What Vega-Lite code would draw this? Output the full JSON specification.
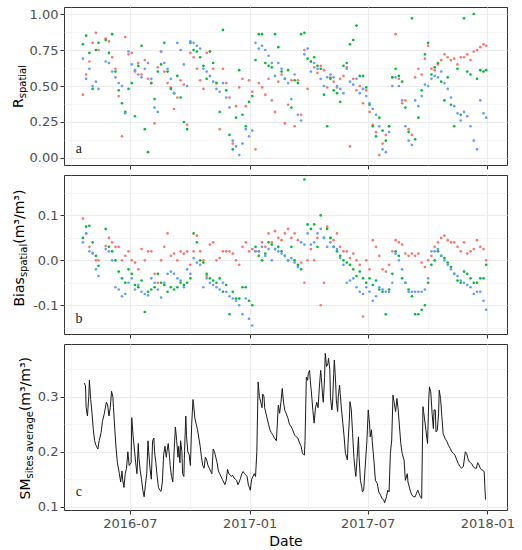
{
"$schema": "https://vega.github.io/schema/vega-lite/v6.json",
"background": "white",
"padding": {"left": 10, "top": 6, "right": 5, "bottom": 5},
"bounds": "flush",
"spacing": 10,
"datasets": {
"lab": [{"p":"a","d":"2016-04-14","v":0.06},{"p":"b","d":"2016-04-14","v":-0.13},{"p":"c","d":"2016-04-14","v":0.127}],
"pts": [
{"d":"2016-04-20","s":"S1","r":0.44,"b":0.093},{"d":"2016-04-20","s":"S2","r":0.79,"b":0.05},{"d":"2016-04-20","s":"S3","r":0.69,"b":0.04},
{"d":"2016-04-25","s":"S1","r":0.58,"b":0.06},{"d":"2016-04-25","s":"S2","r":0.85,"b":0.075},{"d":"2016-04-25","s":"S3","r":0.55,"b":0.06},
{"d":"2016-04-30","s":"S1","r":0.67,"b":0.03},{"d":"2016-04-30","s":"S2","r":0.73,"b":0.077},{"d":"2016-04-30","s":"S3","r":0.62,"b":0.02},
{"d":"2016-05-05","s":"S1","r":0.80,"b":0.017},{"d":"2016-05-05","s":"S2","r":0.48,"b":0.04},{"d":"2016-05-05","s":"S3","r":0.50,"b":0.015},
{"d":"2016-05-10","s":"S1","r":0.87,"b":0.0},{"d":"2016-05-10","s":"S2","r":0.75,"b":0.01},{"d":"2016-05-10","s":"S3","r":0.53,"b":-0.02},
{"d":"2016-05-14","s":"S1","r":0.75,"b":0.0},{"d":"2016-05-14","s":"S2","r":0.80,"b":-0.012},{"d":"2016-05-14","s":"S3","r":0.48,"b":-0.035},
{"d":"2016-05-25","s":"S1","r":0.83,"b":0.032},{"d":"2016-05-25","s":"S2","r":0.82,"b":0.07},{"d":"2016-05-25","s":"S3","r":0.67,"b":0.025},
{"d":"2016-05-30","s":"S1","r":0.81,"b":0.05},{"d":"2016-05-30","s":"S2","r":0.73,"b":0.03},{"d":"2016-05-30","s":"S3","r":0.66,"b":0.02},
{"d":"2016-06-04","s":"S1","r":0.70,"b":0.04},{"d":"2016-06-04","s":"S2","r":0.86,"b":0.02},{"d":"2016-06-04","s":"S3","r":0.60,"b":0.0},
{"d":"2016-06-09","s":"S1","r":0.62,"b":0.03},{"d":"2016-06-09","s":"S2","r":0.60,"b":0.0},{"d":"2016-06-09","s":"S3","r":0.56,"b":-0.06},
{"d":"2016-06-14","s":"S1","r":0.43,"b":0.03},{"d":"2016-06-14","s":"S2","r":0.47,"b":-0.025},{"d":"2016-06-14","s":"S3","r":0.52,"b":-0.065},
{"d":"2016-06-19","s":"S1","r":0.15,"b":0.0},{"d":"2016-06-19","s":"S2","r":0.38,"b":-0.04},{"d":"2016-06-19","s":"S3","r":0.50,"b":-0.08},
{"d":"2016-06-24","s":"S1","r":0.84,"b":0.01},{"d":"2016-06-24","s":"S2","r":0.32,"b":-0.05},{"d":"2016-06-24","s":"S3","r":0.31,"b":-0.075},
{"d":"2016-06-29","s":"S1","r":0.72,"b":0.02},{"d":"2016-06-29","s":"S2","r":0.48,"b":-0.02},{"d":"2016-06-29","s":"S3","r":0.74,"b":-0.05},
{"d":"2016-07-04","s":"S1","r":0.73,"b":0.0},{"d":"2016-07-04","s":"S2","r":0.52,"b":-0.03},{"d":"2016-07-04","s":"S3","r":0.65,"b":-0.04},
{"d":"2016-07-09","s":"S1","r":0.60,"b":-0.005},{"d":"2016-07-09","s":"S2","r":0.29,"b":-0.055},{"d":"2016-07-09","s":"S3","r":0.61,"b":-0.065},
{"d":"2016-07-14","s":"S1","r":0.66,"b":-0.02},{"d":"2016-07-14","s":"S2","r":0.64,"b":-0.06},{"d":"2016-07-14","s":"S3","r":0.58,"b":-0.055},
{"d":"2016-07-19","s":"S1","r":0.58,"b":0.025},{"d":"2016-07-19","s":"S2","r":0.78,"b":-0.045},{"d":"2016-07-19","s":"S3","r":0.56,"b":-0.07},
{"d":"2016-07-24","s":"S1","r":0.68,"b":0.0},{"d":"2016-07-24","s":"S2","r":0.20,"b":-0.115},{"d":"2016-07-24","s":"S3","r":0.62,"b":-0.075},
{"d":"2016-07-29","s":"S1","r":0.55,"b":0.02},{"d":"2016-07-29","s":"S2","r":0.04,"b":-0.07},{"d":"2016-07-29","s":"S3","r":0.66,"b":-0.078},
{"d":"2016-08-03","s":"S1","r":0.52,"b":0.02},{"d":"2016-08-03","s":"S2","r":0.52,"b":-0.065},{"d":"2016-08-03","s":"S3","r":0.55,"b":-0.04},
{"d":"2016-08-08","s":"S1","r":0.24,"b":-0.03},{"d":"2016-08-08","s":"S2","r":0.41,"b":-0.06},{"d":"2016-08-08","s":"S3","r":0.35,"b":-0.05},
{"d":"2016-08-13","s":"S1","r":0.63,"b":-0.05},{"d":"2016-08-13","s":"S2","r":0.60,"b":-0.03},{"d":"2016-08-13","s":"S3","r":0.32,"b":-0.065},
{"d":"2016-08-18","s":"S1","r":0.74,"b":0.0},{"d":"2016-08-18","s":"S2","r":0.65,"b":-0.05},{"d":"2016-08-18","s":"S3","r":0.74,"b":-0.083},
{"d":"2016-08-23","s":"S1","r":0.60,"b":0.03},{"d":"2016-08-23","s":"S2","r":0.80,"b":-0.055},{"d":"2016-08-23","s":"S3","r":0.66,"b":-0.05},
{"d":"2016-08-28","s":"S1","r":0.52,"b":0.06},{"d":"2016-08-28","s":"S2","r":0.60,"b":-0.07},{"d":"2016-08-28","s":"S3","r":0.62,"b":-0.03},
{"d":"2016-09-02","s":"S1","r":0.49,"b":0.01},{"d":"2016-09-02","s":"S2","r":0.48,"b":-0.06},{"d":"2016-09-02","s":"S3","r":0.55,"b":-0.025},
{"d":"2016-09-07","s":"S1","r":0.34,"b":0.015},{"d":"2016-09-07","s":"S2","r":0.45,"b":-0.065},{"d":"2016-09-07","s":"S3","r":0.45,"b":-0.03},
{"d":"2016-09-12","s":"S1","r":0.42,"b":0.0},{"d":"2016-09-12","s":"S2","r":0.57,"b":-0.06},{"d":"2016-09-12","s":"S3","r":0.80,"b":-0.04},
{"d":"2016-09-17","s":"S1","r":0.54,"b":0.02},{"d":"2016-09-17","s":"S2","r":0.42,"b":-0.05},{"d":"2016-09-17","s":"S3","r":0.75,"b":-0.045},
{"d":"2016-09-22","s":"S1","r":0.51,"b":0.015},{"d":"2016-09-22","s":"S2","r":0.25,"b":-0.055},{"d":"2016-09-22","s":"S3","r":0.65,"b":-0.06},
{"d":"2016-09-27","s":"S1","r":0.23,"b":0.02},{"d":"2016-09-27","s":"S2","r":0.20,"b":-0.05},{"d":"2016-09-27","s":"S3","r":0.50,"b":-0.02},
{"d":"2016-10-02","s":"S1","r":0.73,"b":-0.01},{"d":"2016-10-02","s":"S2","r":0.80,"b":-0.04},{"d":"2016-10-02","s":"S3","r":0.81,"b":-0.03},
{"d":"2016-10-07","s":"S1","r":0.70,"b":0.02},{"d":"2016-10-07","s":"S2","r":0.75,"b":0.06},{"d":"2016-10-07","s":"S3","r":0.80,"b":0.005},
{"d":"2016-10-12","s":"S1","r":0.62,"b":0.055},{"d":"2016-10-12","s":"S2","r":0.74,"b":0.04},{"d":"2016-10-12","s":"S3","r":0.78,"b":-0.005},
{"d":"2016-10-17","s":"S1","r":0.54,"b":0.02},{"d":"2016-10-17","s":"S2","r":0.70,"b":0.0},{"d":"2016-10-17","s":"S3","r":0.76,"b":-0.01},
{"d":"2016-10-22","s":"S1","r":0.48,"b":0.0},{"d":"2016-10-22","s":"S2","r":0.64,"b":-0.005},{"d":"2016-10-22","s":"S3","r":0.62,"b":-0.06},
{"d":"2016-10-27","s":"S1","r":0.73,"b":-0.035},{"d":"2016-10-27","s":"S2","r":0.55,"b":-0.03},{"d":"2016-10-27","s":"S3","r":0.60,"b":-0.04},
{"d":"2016-11-01","s":"S1","r":0.74,"b":0.035},{"d":"2016-11-01","s":"S2","r":0.74,"b":-0.04},{"d":"2016-11-01","s":"S3","r":0.57,"b":-0.05},
{"d":"2016-11-06","s":"S1","r":0.62,"b":0.04},{"d":"2016-11-06","s":"S2","r":0.66,"b":-0.045},{"d":"2016-11-06","s":"S3","r":0.53,"b":-0.055},
{"d":"2016-11-11","s":"S1","r":0.52,"b":0.0},{"d":"2016-11-11","s":"S2","r":0.52,"b":-0.05},{"d":"2016-11-11","s":"S3","r":0.48,"b":-0.06},
{"d":"2016-11-16","s":"S1","r":0.20,"b":0.005},{"d":"2016-11-16","s":"S2","r":0.32,"b":-0.04},{"d":"2016-11-16","s":"S3","r":0.46,"b":-0.065},
{"d":"2016-11-21","s":"S1","r":0.62,"b":0.02},{"d":"2016-11-21","s":"S2","r":0.89,"b":-0.07},{"d":"2016-11-21","s":"S3","r":0.52,"b":-0.05},
{"d":"2016-11-26","s":"S1","r":0.52,"b":0.02},{"d":"2016-11-26","s":"S2","r":0.47,"b":-0.055},{"d":"2016-11-26","s":"S3","r":0.42,"b":-0.07},
{"d":"2016-12-01","s":"S1","r":0.42,"b":0.02},{"d":"2016-12-01","s":"S2","r":0.16,"b":-0.12},{"d":"2016-12-01","s":"S3","r":0.35,"b":-0.08},
{"d":"2016-12-06","s":"S1","r":0.10,"b":0.015},{"d":"2016-12-06","s":"S2","r":0.06,"b":-0.07},{"d":"2016-12-06","s":"S3","r":0.12,"b":-0.085},
{"d":"2016-12-11","s":"S1","r":0.36,"b":0.0},{"d":"2016-12-11","s":"S2","r":0.28,"b":-0.085},{"d":"2016-12-11","s":"S3","r":0.08,"b":-0.09},
{"d":"2016-12-16","s":"S1","r":0.49,"b":-0.01},{"d":"2016-12-16","s":"S2","r":0.61,"b":-0.085},{"d":"2016-12-16","s":"S3","r":0.02,"b":-0.1},
{"d":"2016-12-21","s":"S1","r":0.55,"b":0.03},{"d":"2016-12-21","s":"S2","r":0.30,"b":-0.06},{"d":"2016-12-21","s":"S3","r":0.10,"b":-0.12},
{"d":"2016-12-26","s":"S1","r":0.36,"b":0.04},{"d":"2016-12-26","s":"S2","r":0.22,"b":-0.06},{"d":"2016-12-26","s":"S3","r":0.20,"b":-0.085},
{"d":"2016-12-31","s":"S1","r":0.54,"b":0.02},{"d":"2016-12-31","s":"S2","r":0.39,"b":-0.09},{"d":"2016-12-31","s":"S3","r":0.15,"b":-0.13},
{"d":"2017-01-05","s":"S1","r":0.46,"b":0.025},{"d":"2017-01-05","s":"S2","r":0.43,"b":-0.1},{"d":"2017-01-05","s":"S3","r":0.19,"b":-0.145},
{"d":"2017-01-10","s":"S1","r":0.06,"b":0.02},{"d":"2017-01-10","s":"S2","r":0.68,"b":0.03},{"d":"2017-01-10","s":"S3","r":0.80,"b":0.02},
{"d":"2017-01-15","s":"S1","r":0.52,"b":0.02},{"d":"2017-01-15","s":"S2","r":0.86,"b":0.01},{"d":"2017-01-15","s":"S3","r":0.76,"b":0.02},
{"d":"2017-01-20","s":"S1","r":0.49,"b":0.04},{"d":"2017-01-20","s":"S2","r":0.86,"b":0.0},{"d":"2017-01-20","s":"S3","r":0.78,"b":0.03},
{"d":"2017-01-25","s":"S1","r":0.44,"b":0.03},{"d":"2017-01-25","s":"S2","r":0.66,"b":0.015},{"d":"2017-01-25","s":"S3","r":0.75,"b":0.01},
{"d":"2017-01-30","s":"S1","r":0.55,"b":0.06},{"d":"2017-01-30","s":"S2","r":0.64,"b":0.04},{"d":"2017-01-30","s":"S3","r":0.71,"b":0.025},
{"d":"2017-02-04","s":"S1","r":0.40,"b":0.04},{"d":"2017-02-04","s":"S2","r":0.63,"b":0.035},{"d":"2017-02-04","s":"S3","r":0.66,"b":0.0},
{"d":"2017-02-09","s":"S1","r":0.32,"b":0.065},{"d":"2017-02-09","s":"S2","r":0.86,"b":0.025},{"d":"2017-02-09","s":"S3","r":0.57,"b":0.025},
{"d":"2017-02-14","s":"S1","r":0.53,"b":0.05},{"d":"2017-02-14","s":"S2","r":0.77,"b":0.03},{"d":"2017-02-14","s":"S3","r":0.66,"b":0.02},
{"d":"2017-02-19","s":"S1","r":0.58,"b":0.045},{"d":"2017-02-19","s":"S2","r":0.60,"b":0.02},{"d":"2017-02-19","s":"S3","r":0.62,"b":0.015},
{"d":"2017-02-24","s":"S1","r":0.24,"b":0.06},{"d":"2017-02-24","s":"S2","r":0.55,"b":0.01},{"d":"2017-02-24","s":"S3","r":0.55,"b":0.01},
{"d":"2017-03-01","s":"S1","r":0.37,"b":0.07},{"d":"2017-03-01","s":"S2","r":0.61,"b":0.0},{"d":"2017-03-01","s":"S3","r":0.52,"b":0.0},
{"d":"2017-03-06","s":"S1","r":0.54,"b":0.05},{"d":"2017-03-06","s":"S2","r":0.35,"b":0.03},{"d":"2017-03-06","s":"S3","r":0.41,"b":0.005},
{"d":"2017-03-11","s":"S1","r":0.22,"b":0.06},{"d":"2017-03-11","s":"S2","r":0.54,"b":0.0},{"d":"2017-03-11","s":"S3","r":0.58,"b":-0.005},
{"d":"2017-03-16","s":"S1","r":0.54,"b":0.045},{"d":"2017-03-16","s":"S2","r":0.52,"b":-0.01},{"d":"2017-03-16","s":"S3","r":0.30,"b":-0.015},
{"d":"2017-03-21","s":"S1","r":0.30,"b":-0.005},{"d":"2017-03-21","s":"S2","r":0.86,"b":-0.02},{"d":"2017-03-21","s":"S3","r":0.26,"b":0.04},
{"d":"2017-03-26","s":"S1","r":0.75,"b":-0.05},{"d":"2017-03-26","s":"S2","r":0.87,"b":0.18},{"d":"2017-03-26","s":"S3","r":0.72,"b":0.035},
{"d":"2017-03-31","s":"S1","r":0.48,"b":0.0},{"d":"2017-03-31","s":"S2","r":0.69,"b":0.08},{"d":"2017-03-31","s":"S3","r":0.76,"b":0.06},
{"d":"2017-04-05","s":"S1","r":0.67,"b":0.025},{"d":"2017-04-05","s":"S2","r":0.67,"b":0.07},{"d":"2017-04-05","s":"S3","r":0.60,"b":0.035},
{"d":"2017-04-10","s":"S1","r":0.63,"b":0.0},{"d":"2017-04-10","s":"S2","r":0.70,"b":0.08},{"d":"2017-04-10","s":"S3","r":0.66,"b":0.04},
{"d":"2017-04-15","s":"S1","r":0.59,"b":0.05},{"d":"2017-04-15","s":"S2","r":0.64,"b":0.03},{"d":"2017-04-15","s":"S3","r":0.62,"b":0.06},
{"d":"2017-04-20","s":"S1","r":0.64,"b":-0.1},{"d":"2017-04-20","s":"S2","r":0.62,"b":0.1},{"d":"2017-04-20","s":"S3","r":0.55,"b":0.07},
{"d":"2017-04-25","s":"S1","r":0.61,"b":-0.05},{"d":"2017-04-25","s":"S2","r":0.44,"b":0.05},{"d":"2017-04-25","s":"S3","r":0.50,"b":0.05},
{"d":"2017-04-30","s":"S1","r":0.49,"b":0.075},{"d":"2017-04-30","s":"S2","r":0.22,"b":0.07},{"d":"2017-04-30","s":"S3","r":0.56,"b":0.03},
{"d":"2017-05-05","s":"S1","r":0.56,"b":0.05},{"d":"2017-05-05","s":"S2","r":0.55,"b":0.05},{"d":"2017-05-05","s":"S3","r":0.58,"b":0.04},
{"d":"2017-05-10","s":"S1","r":0.53,"b":0.045},{"d":"2017-05-10","s":"S2","r":0.47,"b":0.03},{"d":"2017-05-10","s":"S3","r":0.56,"b":0.03},
{"d":"2017-05-15","s":"S1","r":0.49,"b":0.06},{"d":"2017-05-15","s":"S2","r":0.45,"b":0.02},{"d":"2017-05-15","s":"S3","r":0.50,"b":0.025},
{"d":"2017-05-20","s":"S1","r":0.55,"b":0.03},{"d":"2017-05-20","s":"S2","r":0.39,"b":0.01},{"d":"2017-05-20","s":"S3","r":0.48,"b":0.005},
{"d":"2017-05-25","s":"S1","r":0.57,"b":0.02},{"d":"2017-05-25","s":"S2","r":0.64,"b":0.0},{"d":"2017-05-25","s":"S3","r":0.45,"b":-0.01},
{"d":"2017-05-30","s":"S1","r":0.63,"b":0.02},{"d":"2017-05-30","s":"S2","r":0.66,"b":-0.005},{"d":"2017-05-30","s":"S3","r":0.62,"b":-0.05},
{"d":"2017-06-04","s":"S1","r":0.08,"b":0.005},{"d":"2017-06-04","s":"S2","r":0.79,"b":-0.01},{"d":"2017-06-04","s":"S3","r":0.53,"b":-0.045},
{"d":"2017-06-09","s":"S1","r":0.55,"b":0.015},{"d":"2017-06-09","s":"S2","r":0.82,"b":-0.02},{"d":"2017-06-09","s":"S3","r":0.51,"b":-0.04},
{"d":"2017-06-14","s":"S1","r":0.47,"b":0.0},{"d":"2017-06-14","s":"S2","r":0.92,"b":-0.035},{"d":"2017-06-14","s":"S3","r":0.55,"b":-0.06},
{"d":"2017-06-19","s":"S1","r":0.50,"b":-0.01},{"d":"2017-06-19","s":"S2","r":0.57,"b":-0.025},{"d":"2017-06-19","s":"S3","r":0.45,"b":-0.07},
{"d":"2017-06-24","s":"S1","r":0.38,"b":-0.125},{"d":"2017-06-24","s":"S2","r":0.57,"b":-0.04},{"d":"2017-06-24","s":"S3","r":0.48,"b":-0.075},
{"d":"2017-06-29","s":"S1","r":0.47,"b":0.0},{"d":"2017-06-29","s":"S2","r":0.49,"b":-0.05},{"d":"2017-06-29","s":"S3","r":0.43,"b":-0.06},
{"d":"2017-07-04","s":"S1","r":0.32,"b":-0.02},{"d":"2017-07-04","s":"S2","r":0.37,"b":-0.04},{"d":"2017-07-04","s":"S3","r":0.38,"b":-0.07},
{"d":"2017-07-09","s":"S1","r":0.23,"b":0.045},{"d":"2017-07-09","s":"S2","r":0.22,"b":-0.055},{"d":"2017-07-09","s":"S3","r":0.34,"b":-0.09},
{"d":"2017-07-14","s":"S1","r":0.18,"b":0.03},{"d":"2017-07-14","s":"S2","r":0.15,"b":-0.045},{"d":"2017-07-14","s":"S3","r":0.30,"b":-0.08},
{"d":"2017-07-19","s":"S1","r":0.02,"b":0.01},{"d":"2017-07-19","s":"S2","r":0.28,"b":-0.065},{"d":"2017-07-19","s":"S3","r":0.22,"b":-0.06},
{"d":"2017-07-24","s":"S1","r":0.10,"b":-0.02},{"d":"2017-07-24","s":"S2","r":0.19,"b":-0.07},{"d":"2017-07-24","s":"S3","r":0.06,"b":-0.065},
{"d":"2017-07-29","s":"S1","r":0.16,"b":-0.025},{"d":"2017-07-29","s":"S2","r":0.12,"b":-0.12},{"d":"2017-07-29","s":"S3","r":0.04,"b":-0.07},
{"d":"2017-08-03","s":"S1","r":0.22,"b":-0.01},{"d":"2017-08-03","s":"S2","r":0.22,"b":-0.065},{"d":"2017-08-03","s":"S3","r":0.18,"b":-0.07},
{"d":"2017-08-08","s":"S1","r":0.56,"b":0.02},{"d":"2017-08-08","s":"S2","r":0.56,"b":-0.03},{"d":"2017-08-08","s":"S3","r":0.50,"b":-0.05},
{"d":"2017-08-13","s":"S1","r":0.86,"b":0.045},{"d":"2017-08-13","s":"S2","r":0.62,"b":0.02},{"d":"2017-08-13","s":"S3","r":0.56,"b":0.015},
{"d":"2017-08-18","s":"S1","r":0.55,"b":0.04},{"d":"2017-08-18","s":"S2","r":0.57,"b":0.01},{"d":"2017-08-18","s":"S3","r":0.50,"b":0.0},
{"d":"2017-08-23","s":"S1","r":0.38,"b":0.035},{"d":"2017-08-23","s":"S2","r":0.53,"b":-0.04},{"d":"2017-08-23","s":"S3","r":0.40,"b":-0.02},
{"d":"2017-08-28","s":"S1","r":0.40,"b":0.015},{"d":"2017-08-28","s":"S2","r":0.35,"b":-0.05},{"d":"2017-08-28","s":"S3","r":0.22,"b":-0.05},
{"d":"2017-09-02","s":"S1","r":0.20,"b":0.01},{"d":"2017-09-02","s":"S2","r":0.18,"b":-0.065},{"d":"2017-09-02","s":"S3","r":0.12,"b":-0.07},
{"d":"2017-09-07","s":"S1","r":0.16,"b":0.015},{"d":"2017-09-07","s":"S2","r":0.97,"b":-0.08},{"d":"2017-09-07","s":"S3","r":0.09,"b":-0.07},
{"d":"2017-09-12","s":"S1","r":0.56,"b":0.01},{"d":"2017-09-12","s":"S2","r":0.13,"b":-0.12},{"d":"2017-09-12","s":"S3","r":0.40,"b":-0.07},
{"d":"2017-09-17","s":"S1","r":0.62,"b":0.015},{"d":"2017-09-17","s":"S2","r":0.28,"b":-0.12},{"d":"2017-09-17","s":"S3","r":0.36,"b":-0.07},
{"d":"2017-09-22","s":"S1","r":0.58,"b":-0.005},{"d":"2017-09-22","s":"S2","r":0.47,"b":-0.11},{"d":"2017-09-22","s":"S3","r":0.43,"b":-0.07},
{"d":"2017-09-27","s":"S1","r":0.69,"b":-0.015},{"d":"2017-09-27","s":"S2","r":0.72,"b":-0.1},{"d":"2017-09-27","s":"S3","r":0.51,"b":-0.065},
{"d":"2017-10-02","s":"S1","r":0.78,"b":0.0},{"d":"2017-10-02","s":"S2","r":0.80,"b":-0.05},{"d":"2017-10-02","s":"S3","r":0.50,"b":-0.04},
{"d":"2017-10-07","s":"S1","r":0.62,"b":0.01},{"d":"2017-10-07","s":"S2","r":0.58,"b":-0.01},{"d":"2017-10-07","s":"S3","r":0.55,"b":0.02},
{"d":"2017-10-12","s":"S1","r":0.61,"b":0.03},{"d":"2017-10-12","s":"S2","r":0.63,"b":0.0},{"d":"2017-10-12","s":"S3","r":0.57,"b":0.02},
{"d":"2017-10-17","s":"S1","r":0.65,"b":0.04},{"d":"2017-10-17","s":"S2","r":0.66,"b":0.02},{"d":"2017-10-17","s":"S3","r":0.56,"b":0.025},
{"d":"2017-10-22","s":"S1","r":0.68,"b":0.05},{"d":"2017-10-22","s":"S2","r":0.53,"b":0.01},{"d":"2017-10-22","s":"S3","r":0.60,"b":0.01},
{"d":"2017-10-27","s":"S1","r":0.72,"b":0.055},{"d":"2017-10-27","s":"S2","r":0.40,"b":0.005},{"d":"2017-10-27","s":"S3","r":0.52,"b":0.0},
{"d":"2017-11-01","s":"S1","r":0.70,"b":0.045},{"d":"2017-11-01","s":"S2","r":0.56,"b":-0.005},{"d":"2017-11-01","s":"S3","r":0.48,"b":-0.01},
{"d":"2017-11-06","s":"S1","r":0.68,"b":0.04},{"d":"2017-11-06","s":"S2","r":0.37,"b":-0.015},{"d":"2017-11-06","s":"S3","r":0.42,"b":-0.02},
{"d":"2017-11-11","s":"S1","r":0.69,"b":0.04},{"d":"2017-11-11","s":"S2","r":0.22,"b":-0.03},{"d":"2017-11-11","s":"S3","r":0.36,"b":-0.03},
{"d":"2017-11-16","s":"S1","r":0.65,"b":0.03},{"d":"2017-11-16","s":"S2","r":0.62,"b":-0.045},{"d":"2017-11-16","s":"S3","r":0.31,"b":-0.035},
{"d":"2017-11-21","s":"S1","r":0.70,"b":0.02},{"d":"2017-11-21","s":"S2","r":0.30,"b":-0.05},{"d":"2017-11-21","s":"S3","r":0.26,"b":-0.045},
{"d":"2017-11-26","s":"S1","r":0.70,"b":0.04},{"d":"2017-11-26","s":"S2","r":0.97,"b":-0.025},{"d":"2017-11-26","s":"S3","r":0.32,"b":-0.05},
{"d":"2017-12-01","s":"S1","r":0.72,"b":0.015},{"d":"2017-12-01","s":"S2","r":0.60,"b":-0.03},{"d":"2017-12-01","s":"S3","r":0.29,"b":-0.055},
{"d":"2017-12-06","s":"S1","r":0.68,"b":0.02},{"d":"2017-12-06","s":"S2","r":0.58,"b":-0.04},{"d":"2017-12-06","s":"S3","r":0.22,"b":-0.06},
{"d":"2017-12-11","s":"S1","r":0.74,"b":0.025},{"d":"2017-12-11","s":"S2","r":1.0,"b":-0.05},{"d":"2017-12-11","s":"S3","r":0.12,"b":-0.075},
{"d":"2017-12-16","s":"S1","r":0.75,"b":0.045},{"d":"2017-12-16","s":"S2","r":0.55,"b":-0.05},{"d":"2017-12-16","s":"S3","r":0.06,"b":-0.07},
{"d":"2017-12-21","s":"S1","r":0.77,"b":0.03},{"d":"2017-12-21","s":"S2","r":0.61,"b":-0.04},{"d":"2017-12-21","s":"S3","r":0.40,"b":-0.07},
{"d":"2017-12-26","s":"S1","r":0.79,"b":0.025},{"d":"2017-12-26","s":"S2","r":0.60,"b":-0.04},{"d":"2017-12-26","s":"S3","r":0.31,"b":-0.09},
{"d":"2017-12-30","s":"S1","r":0.78,"b":0.0},{"d":"2017-12-30","s":"S2","r":0.61,"b":-0.01},{"d":"2017-12-30","s":"S3","r":0.28,"b":-0.11}
],
"sm": [
{"d":"2016-04-22","v":0.325},{"d":"2016-04-24","v":0.32},{"d":"2016-04-25","v":0.28},{"d":"2016-04-27","v":0.265},{"d":"2016-04-29","v":0.30},{"d":"2016-04-30","v":0.33},{"d":"2016-05-02","v":0.295},{"d":"2016-05-04","v":0.27},{"d":"2016-05-06","v":0.24},{"d":"2016-05-08","v":0.22},{"d":"2016-05-10","v":0.212},{"d":"2016-05-13","v":0.205},{"d":"2016-05-15","v":0.22},{"d":"2016-05-18","v":0.235},{"d":"2016-05-20","v":0.255},{"d":"2016-05-23","v":0.27},{"d":"2016-05-26","v":0.29},{"d":"2016-05-28","v":0.285},{"d":"2016-05-30","v":0.265},{"d":"2016-06-01","v":0.28},{"d":"2016-06-03","v":0.31},{"d":"2016-06-05","v":0.30},{"d":"2016-06-06","v":0.28},{"d":"2016-06-08","v":0.24},{"d":"2016-06-10","v":0.205},{"d":"2016-06-12","v":0.18},{"d":"2016-06-15","v":0.16},{"d":"2016-06-17","v":0.145},{"d":"2016-06-19","v":0.165},{"d":"2016-06-20","v":0.15},{"d":"2016-06-22","v":0.135},{"d":"2016-06-24","v":0.16},{"d":"2016-06-26","v":0.17},{"d":"2016-06-28","v":0.2},{"d":"2016-06-30","v":0.175},{"d":"2016-07-03","v":0.18},{"d":"2016-07-04","v":0.262},{"d":"2016-07-06","v":0.23},{"d":"2016-07-08","v":0.205},{"d":"2016-07-10","v":0.18},{"d":"2016-07-12","v":0.16},{"d":"2016-07-14","v":0.215},{"d":"2016-07-15","v":0.19},{"d":"2016-07-17","v":0.165},{"d":"2016-07-19","v":0.15},{"d":"2016-07-21","v":0.13},{"d":"2016-07-23","v":0.118},{"d":"2016-07-25","v":0.14},{"d":"2016-07-27","v":0.16},{"d":"2016-07-29","v":0.22},{"d":"2016-07-30","v":0.2},{"d":"2016-08-01","v":0.17},{"d":"2016-08-03","v":0.15},{"d":"2016-08-05","v":0.22},{"d":"2016-08-07","v":0.225},{"d":"2016-08-08","v":0.2},{"d":"2016-08-10","v":0.18},{"d":"2016-08-12","v":0.155},{"d":"2016-08-14","v":0.135},{"d":"2016-08-16","v":0.13},{"d":"2016-08-18","v":0.128},{"d":"2016-08-20","v":0.145},{"d":"2016-08-22","v":0.195},{"d":"2016-08-24","v":0.21},{"d":"2016-08-26","v":0.19},{"d":"2016-08-27","v":0.2},{"d":"2016-08-29","v":0.215},{"d":"2016-08-31","v":0.19},{"d":"2016-09-01","v":0.175},{"d":"2016-09-03","v":0.155},{"d":"2016-09-05","v":0.145},{"d":"2016-09-07","v":0.2},{"d":"2016-09-09","v":0.245},{"d":"2016-09-11","v":0.22},{"d":"2016-09-13","v":0.19},{"d":"2016-09-14","v":0.21},{"d":"2016-09-16","v":0.18},{"d":"2016-09-17","v":0.22},{"d":"2016-09-19","v":0.2},{"d":"2016-09-20","v":0.16},{"d":"2016-09-22","v":0.155},{"d":"2016-09-23","v":0.2},{"d":"2016-09-25","v":0.265},{"d":"2016-09-26","v":0.23},{"d":"2016-09-28","v":0.2},{"d":"2016-09-30","v":0.195},{"d":"2016-10-02","v":0.175},{"d":"2016-10-04","v":0.25},{"d":"2016-10-06","v":0.295},{"d":"2016-10-07","v":0.285},{"d":"2016-10-09","v":0.26},{"d":"2016-10-11","v":0.25},{"d":"2016-10-13","v":0.24},{"d":"2016-10-15","v":0.225},{"d":"2016-10-17","v":0.21},{"d":"2016-10-19","v":0.19},{"d":"2016-10-21","v":0.175},{"d":"2016-10-23","v":0.17},{"d":"2016-10-25","v":0.19},{"d":"2016-10-27","v":0.185},{"d":"2016-10-29","v":0.175},{"d":"2016-10-31","v":0.17},{"d":"2016-11-02","v":0.165},{"d":"2016-11-04","v":0.16},{"d":"2016-11-06","v":0.205},{"d":"2016-11-08","v":0.2},{"d":"2016-11-10","v":0.19},{"d":"2016-11-12","v":0.18},{"d":"2016-11-14","v":0.165},{"d":"2016-11-16","v":0.16},{"d":"2016-11-18","v":0.155},{"d":"2016-11-20","v":0.15},{"d":"2016-11-22","v":0.145},{"d":"2016-11-24","v":0.14},{"d":"2016-11-26","v":0.148},{"d":"2016-11-28","v":0.168},{"d":"2016-11-30","v":0.16},{"d":"2016-12-02","v":0.158},{"d":"2016-12-04","v":0.155},{"d":"2016-12-06","v":0.157},{"d":"2016-12-08","v":0.152},{"d":"2016-12-10","v":0.15},{"d":"2016-12-12","v":0.148},{"d":"2016-12-14","v":0.14},{"d":"2016-12-16","v":0.145},{"d":"2016-12-18","v":0.152},{"d":"2016-12-20","v":0.16},{"d":"2016-12-22","v":0.164},{"d":"2016-12-24","v":0.16},{"d":"2016-12-26","v":0.158},{"d":"2016-12-28","v":0.155},{"d":"2016-12-30","v":0.14},
{"d":"2017-01-02","v":0.13},{"d":"2017-01-04","v":0.15},{"d":"2017-01-06","v":0.155},{"d":"2017-01-08","v":0.16},{"d":"2017-01-10","v":0.155},{"d":"2017-01-12","v":0.2},{"d":"2017-01-14","v":0.327},{"d":"2017-01-16","v":0.30},{"d":"2017-01-18","v":0.29},{"d":"2017-01-20","v":0.28},{"d":"2017-01-21","v":0.305},{"d":"2017-01-23","v":0.3},{"d":"2017-01-24","v":0.28},{"d":"2017-01-26","v":0.27},{"d":"2017-01-28","v":0.26},{"d":"2017-01-30","v":0.25},{"d":"2017-02-01","v":0.24},{"d":"2017-02-03","v":0.235},{"d":"2017-02-06","v":0.23},{"d":"2017-02-08","v":0.225},{"d":"2017-02-11","v":0.22},{"d":"2017-02-12","v":0.24},{"d":"2017-02-14","v":0.285},{"d":"2017-02-16","v":0.27},{"d":"2017-02-18","v":0.29},{"d":"2017-02-20","v":0.315},{"d":"2017-02-22","v":0.29},{"d":"2017-02-24","v":0.275},{"d":"2017-02-26","v":0.27},{"d":"2017-03-01","v":0.26},{"d":"2017-03-03","v":0.25},{"d":"2017-03-06","v":0.245},{"d":"2017-03-08","v":0.24},{"d":"2017-03-11","v":0.23},{"d":"2017-03-13","v":0.228},{"d":"2017-03-16","v":0.225},{"d":"2017-03-18","v":0.218},{"d":"2017-03-21","v":0.21},{"d":"2017-03-23","v":0.197},{"d":"2017-03-26","v":0.194},{"d":"2017-03-27","v":0.22},{"d":"2017-03-29","v":0.336},{"d":"2017-03-31","v":0.33},{"d":"2017-04-01","v":0.342},{"d":"2017-04-03","v":0.348},{"d":"2017-04-04","v":0.33},{"d":"2017-04-06","v":0.305},{"d":"2017-04-08","v":0.275},{"d":"2017-04-10","v":0.252},{"d":"2017-04-12","v":0.28},{"d":"2017-04-14","v":0.29},{"d":"2017-04-16","v":0.28},{"d":"2017-04-18","v":0.318},{"d":"2017-04-20","v":0.348},{"d":"2017-04-21","v":0.335},{"d":"2017-04-23","v":0.3},{"d":"2017-04-24","v":0.29},{"d":"2017-04-26","v":0.335},{"d":"2017-04-27","v":0.379},{"d":"2017-04-29","v":0.355},{"d":"2017-05-01","v":0.36},{"d":"2017-05-02","v":0.37},{"d":"2017-05-04","v":0.35},{"d":"2017-05-05","v":0.3},{"d":"2017-05-07","v":0.276},{"d":"2017-05-08","v":0.282},{"d":"2017-05-10","v":0.342},{"d":"2017-05-11","v":0.367},{"d":"2017-05-13","v":0.325},{"d":"2017-05-14","v":0.294},{"d":"2017-05-16","v":0.273},{"d":"2017-05-17","v":0.3},{"d":"2017-05-19","v":0.321},{"d":"2017-05-20","v":0.306},{"d":"2017-05-22","v":0.276},{"d":"2017-05-24","v":0.252},{"d":"2017-05-26","v":0.227},{"d":"2017-05-28","v":0.197},{"d":"2017-05-31","v":0.185},{"d":"2017-06-01","v":0.215},{"d":"2017-06-03","v":0.258},{"d":"2017-06-04","v":0.291},{"d":"2017-06-06","v":0.276},{"d":"2017-06-08","v":0.233},{"d":"2017-06-10","v":0.19},{"d":"2017-06-12","v":0.164},{"d":"2017-06-13","v":0.155},{"d":"2017-06-15","v":0.19},{"d":"2017-06-17","v":0.227},{"d":"2017-06-18","v":0.19},{"d":"2017-06-20","v":0.148},{"d":"2017-06-22","v":0.136},{"d":"2017-06-23","v":0.127},{"d":"2017-06-25","v":0.13},{"d":"2017-06-28","v":0.185},{"d":"2017-06-30","v":0.221},{"d":"2017-07-02","v":0.276},{"d":"2017-07-04","v":0.252},{"d":"2017-07-05","v":0.227},{"d":"2017-07-07","v":0.24},{"d":"2017-07-08","v":0.221},{"d":"2017-07-11","v":0.18},{"d":"2017-07-13","v":0.148},{"d":"2017-07-16","v":0.142},{"d":"2017-07-18","v":0.127},{"d":"2017-07-21","v":0.121},{"d":"2017-07-23","v":0.115},{"d":"2017-07-26","v":0.112},{"d":"2017-07-27","v":0.107},{"d":"2017-07-30","v":0.118},{"d":"2017-08-01","v":0.13},{"d":"2017-08-03","v":0.127},{"d":"2017-08-05","v":0.197},{"d":"2017-08-07","v":0.221},{"d":"2017-08-09","v":0.303},{"d":"2017-08-11","v":0.288},{"d":"2017-08-13","v":0.273},{"d":"2017-08-15","v":0.297},{"d":"2017-08-17","v":0.276},{"d":"2017-08-19","v":0.245},{"d":"2017-08-21","v":0.215},{"d":"2017-08-23","v":0.197},{"d":"2017-08-26","v":0.185},{"d":"2017-08-28","v":0.148},{"d":"2017-08-31","v":0.16},{"d":"2017-09-01","v":0.145},{"d":"2017-09-03","v":0.136},{"d":"2017-09-05","v":0.127},{"d":"2017-09-07","v":0.121},{"d":"2017-09-10","v":0.118},{"d":"2017-09-12","v":0.118},{"d":"2017-09-14","v":0.124},{"d":"2017-09-16","v":0.13},{"d":"2017-09-18","v":0.124},{"d":"2017-09-20","v":0.118},{"d":"2017-09-22","v":0.115},{"d":"2017-09-24","v":0.282},{"d":"2017-09-25","v":0.273},{"d":"2017-09-28","v":0.245},{"d":"2017-09-30","v":0.224},{"d":"2017-10-01","v":0.215},{"d":"2017-10-03","v":0.297},{"d":"2017-10-04","v":0.318},{"d":"2017-10-06","v":0.309},{"d":"2017-10-08","v":0.27},{"d":"2017-10-10","v":0.242},{"d":"2017-10-11","v":0.276},{"d":"2017-10-13","v":0.276},{"d":"2017-10-14","v":0.236},{"d":"2017-10-16","v":0.239},{"d":"2017-10-18","v":0.27},{"d":"2017-10-19","v":0.312},{"d":"2017-10-21","v":0.297},{"d":"2017-10-23","v":0.264},{"d":"2017-10-25","v":0.233},{"d":"2017-10-28","v":0.224},{"d":"2017-10-31","v":0.218},{"d":"2017-11-02","v":0.212},{"d":"2017-11-05","v":0.206},{"d":"2017-11-07","v":0.2},{"d":"2017-11-10","v":0.197},{"d":"2017-11-12","v":0.194},{"d":"2017-11-15","v":0.185},{"d":"2017-11-17","v":0.179},{"d":"2017-11-20","v":0.173},{"d":"2017-11-22","v":0.17},{"d":"2017-11-25","v":0.173},{"d":"2017-11-28","v":0.2},{"d":"2017-11-30","v":0.197},{"d":"2017-12-02","v":0.188},{"d":"2017-12-04","v":0.182},{"d":"2017-12-06","v":0.18},{"d":"2017-12-08","v":0.178},{"d":"2017-12-10","v":0.173},{"d":"2017-12-13","v":0.17},{"d":"2017-12-15","v":0.17},{"d":"2017-12-17","v":0.18},{"d":"2017-12-19","v":0.176},{"d":"2017-12-21","v":0.17},{"d":"2017-12-23","v":0.167},{"d":"2017-12-25","v":0.166},{"d":"2017-12-27","v":0.164},{"d":"2017-12-28","v":0.136},{"d":"2017-12-29","v":0.113}
]
},
"vconcat": [
{
"width": 443, "height": 158,
"encoding": {"x": {"field": "d", "type": "temporal",
  "scale": {"domain": [{"year":2016,"month":3,"date":22},{"year":2018,"month":1,"date":31}]},
  "axis": {"values": [{"year":2016,"month":4,"date":1},{"year":2016,"month":7,"date":1},{"year":2016,"month":10,"date":1},{"year":2017,"month":1,"date":1},{"year":2017,"month":4,"date":1},{"year":2017,"month":7,"date":1},{"year":2017,"month":10,"date":1},{"year":2018,"month":1,"date":1}],
    "labels": false, "title": null, "grid": true,
    "tickOpacity": {"condition": {"test": "month(datum.value) % 6 != 0", "value": 0}, "value": 1},
    "gridWidth": {"condition": {"test": "month(datum.value) % 6 != 0", "value": 0.5}, "value": 1}}}},
"layer": [
 {"data": {"name": "pts"}, "transform": [{"filter": "datum.s === 'S1'"}],
  "mark": {"type": "circle", "size": 7, "opacity": 1},
  "encoding": {"y": {"field": "r", "type": "quantitative", "scale": {"domain": [-0.049, 1.049], "nice": false, "zero": false},
     "axis": {"orient": "left", "values": [0,0.125,0.25,0.375,0.5,0.625,0.75,0.875,1], "grid": true,
       "labelExpr": "datum.value*1000 % 250 == 0 ? format(datum.value, '.2f') : ''",
       "tickOpacity": {"condition": {"test": "datum.value*1000 % 250 != 0", "value": 0}, "value": 1},
       "gridWidth": {"condition": {"test": "datum.value*1000 % 250 != 0", "value": 0.5}, "value": 1},
       "title": "R", "titleFontSize": 14, "titleAngle": -90, "titleAlign": "left", "titleBaseline": "alphabetic", "titleX": -42, "titleY": 100.5}},
   "color": {"field": "s", "type": "nominal", "scale": {"domain": ["S1","S2","S3"], "range": ["#F8766D","#00BA38","#619CFF"]}, "legend": null}}},
 {"data": {"name": "pts"}, "transform": [{"filter": "datum.s === 'S2'"}],
  "mark": {"type": "circle", "size": 7, "opacity": 1},
  "encoding": {"y": {"field": "r", "type": "quantitative", "scale": {"domain": [-0.049, 1.049], "nice": false, "zero": false},
     "axis": {"orient": "left", "labels": false, "ticks": false, "domain": false, "grid": false,
       "title": "spatial", "titleFontSize": 10, "titleAngle": -90, "titleAlign": "left", "titleBaseline": "alphabetic", "titleX": -39, "titleY": 90.8}},
   "color": {"field": "s", "type": "nominal", "scale": {"domain": ["S1","S2","S3"], "range": ["#F8766D","#00BA38","#619CFF"]}, "legend": null}}},
 {"data": {"name": "pts"}, "transform": [{"filter": "datum.s === 'S3'"}],
  "mark": {"type": "circle", "size": 7, "opacity": 1},
  "encoding": {"y": {"field": "r", "type": "quantitative", "scale": {"domain": [-0.049, 1.049], "nice": false, "zero": false}, "axis": null},
   "color": {"field": "s", "type": "nominal", "scale": {"domain": ["S1","S2","S3"], "range": ["#F8766D","#00BA38","#619CFF"]}, "legend": null}}},
 {"data": {"name": "lab"}, "transform": [{"filter": "datum.p === 'a'"}],
  "mark": {"type": "text", "font": "Liberation Serif", "fontSize": 14, "color": "#1A1A1A", "align": "center", "baseline": "middle"},
  "encoding": {"y": {"field": "v", "type": "quantitative", "scale": {"domain": [-0.049, 1.049], "nice": false, "zero": false}, "axis": null}, "text": {"field": "p"}}}
],
"resolve": {"axis": {"y": "independent"}}
},
{
"width": 443, "height": 159,
"encoding": {"x": {"field": "d", "type": "temporal",
  "scale": {"domain": [{"year":2016,"month":3,"date":22},{"year":2018,"month":1,"date":31}]},
  "axis": {"values": [{"year":2016,"month":4,"date":1},{"year":2016,"month":7,"date":1},{"year":2016,"month":10,"date":1},{"year":2017,"month":1,"date":1},{"year":2017,"month":4,"date":1},{"year":2017,"month":7,"date":1},{"year":2017,"month":10,"date":1},{"year":2018,"month":1,"date":1}],
    "labels": false, "title": null, "grid": true,
    "tickOpacity": {"condition": {"test": "month(datum.value) % 6 != 0", "value": 0}, "value": 1},
    "gridWidth": {"condition": {"test": "month(datum.value) % 6 != 0", "value": 0.5}, "value": 1}}}},
"layer": [
 {"data": {"name": "pts"}, "transform": [{"filter": "datum.s === 'S1'"}],
  "mark": {"type": "circle", "size": 7, "opacity": 1},
  "encoding": {"y": {"field": "b", "type": "quantitative", "scale": {"domain": [-0.164, 0.19], "nice": false, "zero": false},
     "axis": {"orient": "left", "values": [-0.15,-0.1,-0.05,0,0.05,0.1,0.15], "grid": true,
       "labelExpr": "abs(round(datum.value*100)) % 10 == 0 ? (datum.value < 0 ? '-' : '') + format(abs(datum.value), '.1f') : ''",
       "tickOpacity": {"condition": {"test": "abs(round(datum.value*100)) % 10 != 0", "value": 0}, "value": 1},
       "gridWidth": {"condition": {"test": "abs(round(datum.value*100)) % 10 != 0", "value": 0.5}, "value": 1},
       "title": "Bias", "titleFontSize": 14, "titleAngle": -90, "titleAlign": "left", "titleBaseline": "alphabetic", "titleX": -41, "titleY": 131}},
   "color": {"field": "s", "type": "nominal", "scale": {"domain": ["S1","S2","S3"], "range": ["#F8766D","#00BA38","#619CFF"]}, "legend": null}}},
 {"data": {"name": "pts"}, "transform": [{"filter": "datum.s === 'S2'"}],
  "mark": {"type": "circle", "size": 7, "opacity": 1},
  "encoding": {"y": {"field": "b", "type": "quantitative", "scale": {"domain": [-0.164, 0.19], "nice": false, "zero": false},
     "axis": {"orient": "left", "labels": false, "ticks": false, "domain": false, "grid": false,
       "title": "spatial", "titleFontSize": 10, "titleAngle": -90, "titleAlign": "left", "titleBaseline": "alphabetic", "titleX": -38, "titleY": 101.6}},
   "color": {"field": "s", "type": "nominal", "scale": {"domain": ["S1","S2","S3"], "range": ["#F8766D","#00BA38","#619CFF"]}, "legend": null}}},
 {"data": {"name": "pts"}, "transform": [{"filter": "datum.s === 'S3'"}],
  "mark": {"type": "circle", "size": 7, "opacity": 1},
  "encoding": {"y": {"field": "b", "type": "quantitative", "scale": {"domain": [-0.164, 0.19], "nice": false, "zero": false},
     "axis": {"orient": "left", "labels": false, "ticks": false, "domain": false, "grid": false,
       "title": "(m³/m³)", "titleFontSize": 14, "titleAngle": -90, "titleAlign": "left", "titleBaseline": "alphabetic", "titleX": -41, "titleY": 68.3}},
   "color": {"field": "s", "type": "nominal", "scale": {"domain": ["S1","S2","S3"], "range": ["#F8766D","#00BA38","#619CFF"]}, "legend": null}}},
 {"data": {"name": "lab"}, "transform": [{"filter": "datum.p === 'b'"}],
  "mark": {"type": "text", "font": "Liberation Serif", "fontSize": 14, "color": "#1A1A1A", "align": "center", "baseline": "middle"},
  "encoding": {"y": {"field": "v", "type": "quantitative", "scale": {"domain": [-0.164, 0.19], "nice": false, "zero": false}, "axis": null}, "text": {"field": "p"}}}
],
"resolve": {"axis": {"y": "independent"}}
},
{
"width": 443, "height": 166,
"encoding": {"x": {"field": "d", "type": "temporal",
  "scale": {"domain": [{"year":2016,"month":3,"date":22},{"year":2018,"month":1,"date":31}]},
  "axis": {"values": [{"year":2016,"month":4,"date":1},{"year":2016,"month":7,"date":1},{"year":2016,"month":10,"date":1},{"year":2017,"month":1,"date":1},{"year":2017,"month":4,"date":1},{"year":2017,"month":7,"date":1},{"year":2017,"month":10,"date":1},{"year":2018,"month":1,"date":1}],
    "labelExpr": "month(datum.value) % 6 == 0 ? timeFormat(datum.value, '%Y-%m') : ''",
    "labelFlush": false, "labelOverlap": false, "labelPadding": 3,
    "title": "Date", "titleFontSize": 14, "titlePadding": 4, "grid": true,
    "tickOpacity": {"condition": {"test": "month(datum.value) % 6 != 0", "value": 0}, "value": 1},
    "gridWidth": {"condition": {"test": "month(datum.value) % 6 != 0", "value": 0.5}, "value": 1}}}},
"layer": [
 {"data": {"name": "sm"},
  "mark": {"type": "line", "color": "#1A1A1A", "strokeWidth": 1},
  "encoding": {"y": {"field": "v", "type": "quantitative", "scale": {"domain": [0.094, 0.396], "nice": false, "zero": false},
     "axis": {"orient": "left", "values": [0.1,0.15,0.2,0.25,0.3,0.35], "grid": true,
       "labelExpr": "round(datum.value*100) % 10 == 0 ? format(datum.value, '.1f') : ''",
       "tickOpacity": {"condition": {"test": "round(datum.value*100) % 10 != 0", "value": 0}, "value": 1},
       "gridWidth": {"condition": {"test": "round(datum.value*100) % 10 != 0", "value": 0.5}, "value": 1},
       "title": "SM", "titleFontSize": 14, "titleAngle": -90, "titleAlign": "left", "titleBaseline": "alphabetic", "titleX": -35, "titleY": 155}}}},
 {"data": {"name": "lab"}, "transform": [{"filter": "datum.p === 'c'"}],
  "mark": {"type": "text", "font": "Liberation Serif", "fontSize": 14, "color": "#1A1A1A", "align": "center", "baseline": "middle"},
  "encoding": {"y": {"field": "v", "type": "quantitative", "scale": {"domain": [0.094, 0.396], "nice": false, "zero": false},
     "axis": {"orient": "left", "labels": false, "ticks": false, "domain": false, "grid": false,
       "title": "sites average", "titleFontSize": 10, "titleAngle": -90, "titleAlign": "left", "titleBaseline": "alphabetic", "titleX": -32, "titleY": 134}},
   "text": {"field": "p"}}},
 {"data": {"name": "lab"}, "transform": [{"filter": "datum.p === 'c'"}],
  "mark": {"type": "text", "opacity": 0},
  "encoding": {"y": {"field": "v", "type": "quantitative", "scale": {"domain": [0.094, 0.396], "nice": false, "zero": false},
     "axis": {"orient": "left", "labels": false, "ticks": false, "domain": false, "grid": false,
       "title": "(m³/m³)", "titleFontSize": 14, "titleAngle": -90, "titleAlign": "left", "titleBaseline": "alphabetic", "titleX": -35, "titleY": 66.6}},
   "text": {"field": "p"}}}
],
"resolve": {"axis": {"y": "independent"}}
}
],
"config": {
 "font": "DejaVu Sans",
 "view": {"stroke": "#333333", "strokeWidth": 1},
 "axis": {"labelFont": "DejaVu Sans", "labelFontSize": 13, "labelColor": "#4D4D4D", "titleFont": "DejaVu Sans", "titleColor": "#000000", "titleFontWeight": "normal", "domain": false, "tickColor": "#333333", "tickSize": 4, "tickWidth": 1, "gridColor": "#EBEBEB", "labelPadding": 2}
}
}
